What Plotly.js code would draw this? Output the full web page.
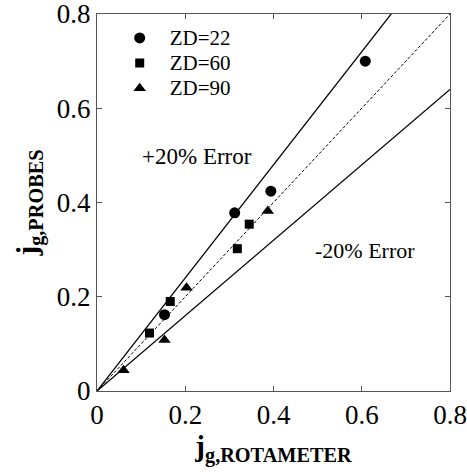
<!DOCTYPE html>
<html><head><meta charset="utf-8">
<script src="https://cdn.plot.ly/plotly-3.0.1.min.js"></script>
<style>body{margin:0;}#chart{width:467px;height:473px;}</style>
</head><body><div id="chart"></div>
<script>
const zd22_x = [0.608, 0.394, 0.312, 0.153];
const zd22_y = [0.700, 0.424, 0.378, 0.162];
const zd60_x = [0.166, 0.119, 0.345, 0.318];
const zd60_y = [0.190, 0.123, 0.354, 0.302];
const zd90_x = [0.060, 0.153, 0.203, 0.387];
const zd90_y = [0.044, 0.108, 0.219, 0.382];
const seriesNames = ['ZD=22', 'ZD=60', 'ZD=90'];
const lineX = [0, 0.8];
const slopes = {plus: 1.2, equal: 1.0, minus: 0.8};
const tickVals = [0, 0.2, 0.4, 0.6, 0.8];
const tickText = ['0', '0.2', '0.4', '0.6', '0.8'];

const serif = 'Liberation Serif';
const big = s => '<span style="font-size:21px">' + s + '</span>';
const traces = [
  {x: lineX, y: lineX.map(v => v*slopes.plus), mode:'lines', line:{color:'black', width:1.3}, showlegend:false, hoverinfo:'skip'},
  {x: lineX, y: lineX.map(v => v*slopes.equal), mode:'lines', line:{color:'black', width:1, dash:'3px,2px'}, showlegend:false, hoverinfo:'skip'},
  {x: lineX, y: lineX.map(v => v*slopes.minus), mode:'lines', line:{color:'black', width:1.3}, showlegend:false, hoverinfo:'skip'},
  {x: zd22_x, y: zd22_y, mode:'markers', name:big(seriesNames[0]), marker:{symbol:'circle', size:11, color:'black'}},
  {x: zd60_x, y: zd60_y, mode:'markers', name:big(seriesNames[1]), marker:{symbol:'square', size:9, color:'black'}},
  {x: zd90_x, y: zd90_y, mode:'markers', name:big(seriesNames[2]), marker:{symbol:'triangle-up', size:11, color:'black'}}
];
const axBase = {
  range:[0,0.8], tickvals:tickVals, ticktext:tickText, ticks:'inside', ticklen:5, tickcolor:'#555',
  showline:true, linecolor:'#555', linewidth:1, mirror:'ticks', showgrid:false, zeroline:false,
  ticklabeloverflow:'allow',
  tickfont:{family:serif, size:27, color:'black'}
};
const layout = {
  width:467, height:473,
  margin:{l:97, r:17, t:14, b:82},
  paper_bgcolor:'white', plot_bgcolor:'white',
  font:{family:serif, color:'black'},
  xaxis: Object.assign({}, axBase, {title:{text:'<b>j</b><sub><b>g,ROTAMETER</b></sub>', font:{family:serif, size:29}, standoff:4}}),
  yaxis: Object.assign({}, axBase, {title:{text:'<b>j</b><sub><b>g,PROBES</b></sub>', font:{family:serif, size:29}, standoff:10}}),
  legend:{x:0.036, y:0.983, xanchor:'left', yanchor:'top', bgcolor:'rgba(0,0,0,0)', font:{family:serif, size:17, color:'black'}, tracegroupgap:0, itemwidth:50},
  annotations:[
    {x:0.2256, y:0.498, xref:'x', yref:'y', text:'+20% Error', showarrow:false, font:{family:serif, size:23}},
    {x:0.608, y:0.298, xref:'x', yref:'y', text:'-20% Error', showarrow:false, font:{family:serif, size:22}}
  ]
};
Plotly.newPlot('chart', traces, layout, {displayModeBar:false, staticPlot:true});
</script></body></html>
